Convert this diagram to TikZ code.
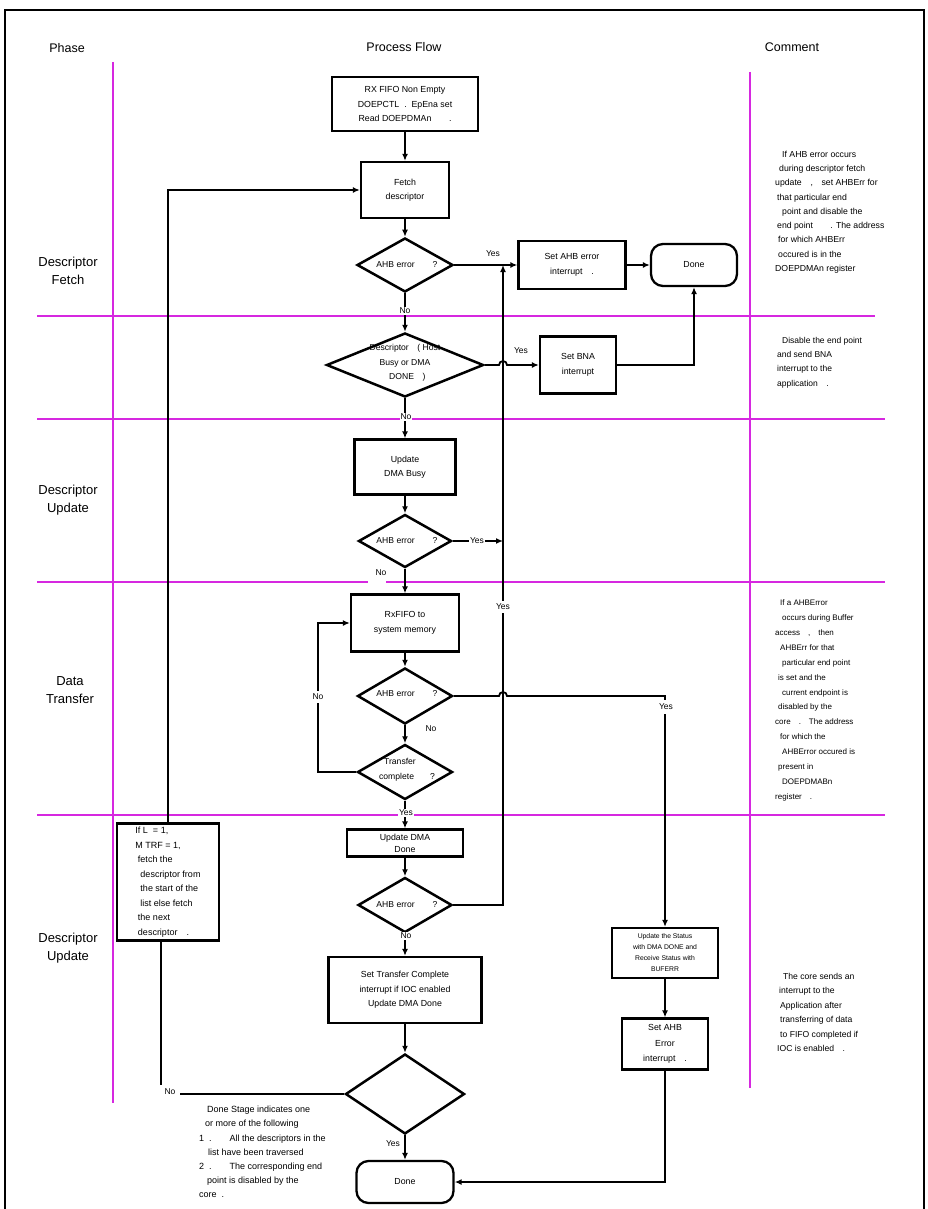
\documentclass[tikz,border=0pt]{standalone}
\usepackage{fontspec}
\setmainfont{Liberation Sans}
\usetikzlibrary{arrows.meta,shapes.geometric}
\definecolor{mag}{RGB}{214,40,224}
\begin{document}
\begin{tikzpicture}[x=1pt,y=-1pt,
  box/.style={draw,line width=2.3pt,inner sep=0pt,align=center,font=\fontsize{8.8}{14.5}\selectfont},
  dia/.style={draw,diamond,line width=2.5pt,inner sep=0pt},
  txt/.style={inner sep=0pt,align=center,font=\fontsize{8.6}{14.5}\selectfont},
  lab/.style={inner sep=1pt,fill=white,font=\fontsize{8.5}{9}\selectfont},
  labn/.style={inner sep=1pt,font=\fontsize{8.5}{9}\selectfont},
  con/.style={line width=1.8pt},
  arr/.style={con,-{Latex[length=7pt,width=6pt]}},
  magl/.style={mag,line width=2.4pt},
  cmt/.style={inner sep=0pt,align=left,anchor=north west},
  hdr/.style={inner sep=0pt,font=\fontsize{12.5}{14}\selectfont},
  phase/.style={inner sep=0pt,align=center,font=\fontsize{13}{18}\selectfont},
  term/.style={draw,line width=2.3pt,rounded corners=12pt,inner sep=0pt,font=\fontsize{8.8}{9}\selectfont}
]
\useasboundingbox (0,0) rectangle (928,1209);
\clip (0,0) rectangle (928,1209);
\fill[white] (0,0) rectangle (928,1209);
\draw[line width=1.4pt] (5,10) rectangle (924,1230);

% swimlane lines
\draw[magl] (113,62) -- (113,1103);
\draw[magl] (750,72) -- (750,1088);
\draw[magl,line width=2.8pt] (37,316) -- (875,316);
\draw[magl] (37,419) -- (885,419);
\draw[magl] (37,582) -- (368,582) (386,582) -- (885,582);
\draw[magl] (37,815) -- (885,815);

% headers
\node[hdr] (hphase) at (67,48) {Phase};
\node[hdr] (hflow) at (404,47) {Process Flow};
\node[hdr] (hcomm) at (792,47) {Comment};
\node[phase] (p1) at (68,271) {Descriptor\\Fetch};
\node[phase] (p2) at (68,500) {Descriptor\\Update};
\node[phase] (p3) at (70,690) {Data\\Transfer};
\node[phase] (p4) at (68,948) {Descriptor\\Update};

% nodes
\node[box,line width=2.6pt,minimum width=146pt,minimum height=54pt] (start) at (405,104)
  {RX FIFO Non Empty\\DOEPCTL\ \ .\ \ EpEna set\\Read DOEPDMAn\qquad .};
\node[box,minimum width=88pt,minimum height=56pt] (fetch) at (405,190) {Fetch\\descriptor};
\node[dia,minimum width=96pt,minimum height=54pt] (d1) at (405,265) {};
\node[txt] (d1t) at (407,265) {AHB error\hspace{18pt}?};
\node[box,minimum width=107pt,minimum height=48pt] (seterr) at (572,265) {Set AHB error\\interrupt\quad .};
\node[term,minimum width=86pt,minimum height=42pt] (done1) at (694,265) {Done};

\node[dia,minimum width=157pt,minimum height=64pt] (d2) at (405,365) {};
\node[txt] (d2t) at (405,363) {Descriptor\quad ( Host\\Busy or DMA\\\ \ DONE\quad )};
\node[box,minimum width=76pt,minimum height=57pt] (bna) at (578,365) {Set BNA\\interrupt};

\node[box,minimum width=101pt,minimum height=55pt] (busy) at (405,467) {Update\\DMA Busy};
\node[dia,minimum width=93pt,minimum height=53pt] (d3) at (405,541) {};
\node[txt] (d3t) at (407,541) {AHB error\hspace{18pt}?};

\node[box,minimum width=108pt,minimum height=57pt] (rx) at (405,623) {RxFIFO to\\system memory};
\node[dia,minimum width=95pt,minimum height=56pt] (d4) at (405,696) {};
\node[txt] (d4t) at (407,694) {AHB error\hspace{18pt}?};
\node[dia,minimum width=95pt,minimum height=55pt] (d5) at (405,772) {};
\node[txt] (d5t) at (407,770) {\hspace*{-14pt}Transfer\\complete\hspace{16pt}?};

\node[box,minimum width=116pt,minimum height=27pt,font=\fontsize{8.8}{12}\selectfont] (dmadone) at (405,843) {Update DMA\\Done};
\node[dia,minimum width=94pt,minimum height=55pt] (d6) at (405,905) {};
\node[txt] (d6t) at (407,905) {AHB error\hspace{18pt}?};
\node[box,minimum width=153pt,minimum height=66pt] (settc) at (405,990)
  {Set Transfer Complete\\interrupt if IOC enabled\\Update DMA Done};
\node[dia,minimum width=119pt,minimum height=80pt] (d7) at (405,1094) {};
\node[term,minimum width=97pt,minimum height=42pt] (done2) at (405,1182) {Done};

\node[box,align=left,minimum width=102pt,minimum height=117pt,font=\fontsize{9}{14.5}\selectfont] (il) at (168,882)
  {If L\ \ = 1,\\M TRF\ = 1,\\\ fetch the\\\ \ descriptor from\\\ \ the start of the\\\ \ list else fetch\\\ the next\\\ descriptor\quad .};

\node[box,minimum width=106pt,minimum height=50pt,font=\fontsize{6.8}{11}\selectfont] (st19) at (665,953)
  {Update the Status\\with DMA DONE and\\Receive Status with\\BUFERR};
\node[box,minimum width=86pt,minimum height=51pt,font=\fontsize{8.8}{15.5}\selectfont] (err20) at (665,1044)
  {Set AHB\\Error\\interrupt\quad .};

% coordinates
\coordinate (v0) at (503,265);
\coordinate (j3) at (503,541);
\coordinate (lp) at (318,772);
\coordinate (c7) at (161,1094);

% connectors
\draw[arr] (start) -- (fetch);
\draw[arr] (fetch) -- (d1);
\draw[arr] (d1.east) -- (seterr.west);
\draw[arr] (seterr.east) -- (done1.west);
\draw[arr] (d1.south) -- (d2.north);
\draw[arr] (d2.east) -- (499,365) arc[start angle=180,end angle=0,radius=4pt] -- (bna.west);
\draw[arr] (bna.east) -| (done1.south);
\draw[arr] (d2.south) -- (busy.north);
\draw[arr] (busy) -- (d3);
\draw[arr] (d3.east) -- (j3);
\draw[arr] (d6.east) -| (v0);
\draw[arr] (d3.south) -- (rx.north);
\draw[arr] (rx) -- (d4);
\draw[arr] (d4.east) -- (499,696) arc[start angle=180,end angle=0,radius=4pt] -- (665,696) -- (st19.north);
\draw[arr] (d4.south) -- (d5.north);
\draw[arr] (d5.west) -- (lp) |- (rx.west);
\draw[arr] (d5.south) -- (dmadone.north);
\draw[arr] (dmadone) -- (d6);
\draw[arr] (d6.south) -- (settc.north);
\draw[arr] (settc) -- (d7);
\draw[con] (d7.west) -- (c7) -- (c7 |- il.south);
\draw[arr] (il.north) |- (fetch.west);
\draw[arr] (d7.south) -- (done2.north);
\draw[arr] (st19) -- (err20);
\draw[arr] (err20.south) |- (done2.east);

% labels
\node[labn] (y1) at (493,254) {Yes};
\node[lab] (n1) at (405,311) {No};
\node[labn] (y2) at (521,351) {Yes};
\node[lab] (n2) at (406,417) {No};
\node[lab] (y3) at (477,541) {Yes};
\node[labn] (n3) at (381,573) {No};
\node[lab,inner ysep=3pt] (y4) at (503,607) {Yes};
\node[lab,inner ysep=3pt] (n4) at (318,697) {No};
\node[labn] (n5) at (431,729) {No};
\node[lab,inner ysep=4pt] (y5) at (666,707) {Yes};
\node[lab] (y6) at (406,813) {Yes};
\node[lab] (n6) at (406,936) {No};
\node[lab,minimum width=20pt,minimum height=15pt] (n7) at (170,1092) {No};
\node[labn] (y7) at (393,1144) {Yes};

% comments
\node[cmt,font=\fontsize{8.7}{14.25}\selectfont] (c1) at (775,151)
  {\hspace*{7pt}If AHB error occurs\\
   \hspace*{4pt}during descriptor fetch\\
   update\quad ,\quad set AHBErr for\\
   \hspace*{2pt}that particular end\\
   \hspace*{7pt}point and disable the\\
   \hspace*{2pt}end point\qquad . The address\\
   \hspace*{3pt}for which AHBErr\\
   \hspace*{3pt}occured is in the\\
   DOEPDMAn register};
\node[cmt,font=\fontsize{8.5}{14.3}\selectfont] (c2) at (777,337)
  {\hspace*{5pt}Disable the end point\\
   and send BNA\\
   interrupt to the\\
   application\quad .};
\node[cmt,font=\fontsize{8}{14.85}\selectfont] (c3) at (775,600)
  {\hspace*{5pt}If a AHBError\\
   \hspace*{7pt}occurs during Buffer\\
   access\quad ,\quad then\\
   \hspace*{5pt}AHBErr for that\\
   \hspace*{7pt}particular end point\\
   \hspace*{3pt}is set and the\\
   \hspace*{7pt}current endpoint is\\
   \hspace*{3pt}disabled by the\\
   core\quad .\quad The address\\
   \hspace*{5pt}for which the\\
   \hspace*{7pt}AHBError occured is\\
   \hspace*{3pt}present in\\
   \hspace*{7pt}DOEPDMABn\\
   register\quad .};
\node[cmt,font=\fontsize{8.6}{14.4}\selectfont] (c4) at (777,973)
  {\hspace*{6pt}The core sends an\\
   \hspace*{2pt}interrupt to the\\
   \hspace*{3pt}Application after\\
   \hspace*{3pt}transferring of data\\
   \hspace*{3pt}to FIFO completed if\\
   IOC is enabled\quad .};
\node[cmt,font=\fontsize{9}{14.2}\selectfont] (c5) at (199,1106)
  {\hspace*{8pt}Done Stage indicates one\\
   \hspace*{6pt}or more of the following\\
   1\ \ .\qquad All the descriptors in the\\
   \hspace*{9pt}list have been traversed\\
   2\ \ .\qquad The corresponding end\\
   \hspace*{8pt}point is disabled by the\\
   core\ \ .};
\end{tikzpicture}
\end{document}
